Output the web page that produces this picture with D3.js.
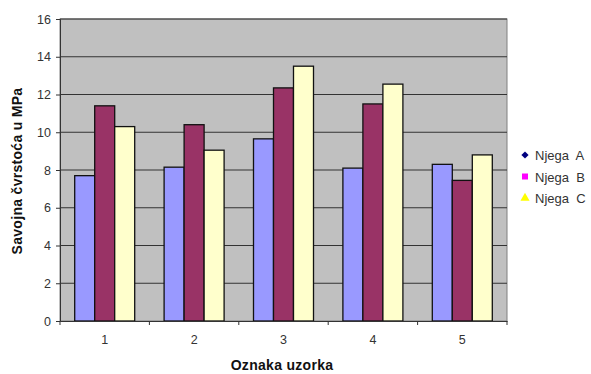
<!DOCTYPE html>
<html><head><meta charset="utf-8">
<script src="https://cdn.jsdelivr.net/npm/d3@7"></script>
<style>body{margin:0;background:#fff;} text{font-family:"Liberation Sans",Arial,sans-serif;}</style>
</head><body>
<svg id="c" width="591" height="374"></svg>
<script>
const categories = ["1","2","3","4","5"];
const seriesNames = ["Njega  A","Njega  B","Njega  C"];
const njegaA = [7.7, 8.15, 9.65, 8.1, 8.3];
const njegaB = [11.4, 10.4, 12.35, 11.5, 7.45];
const njegaC = [10.3, 9.05, 13.5, 12.55, 8.8];
const yTicks = [0,2,4,6,8,10,12,14,16];

const series = [njegaA, njegaB, njegaC];
const barColors = ["#9999FF","#993366","#FFFFCC"];
const legendColors = ["#000080","#FF00FF","#FFFF00"];

const svg = d3.select("#c");
const L = 60, R = 507, T = 19, B = 321;
const x = d3.scaleBand().domain(categories).range([L, R]).paddingInner(0).paddingOuter(0);
const y = d3.scaleLinear().domain([0,16]).range([B, T]);
const barW = 20;

svg.append("rect").attr("x", L).attr("y", T).attr("width", R-L).attr("height", B-T)
  .attr("fill", "#C0C0C0").attr("stroke", "#808080").attr("stroke-width", 1);

svg.append("g").selectAll("line").data(yTicks.filter(d => d > 0)).join("line")
  .attr("x1", L).attr("x2", R).attr("y1", d => y(d)).attr("y2", d => y(d))
  .attr("stroke", "#333").attr("stroke-width", 1);

categories.forEach((c, i) => {
  const cx = x(c) + x.bandwidth()/2;
  series.forEach((s, j) => {
    svg.append("rect")
      .attr("x", cx - 1.5*barW + j*barW)
      .attr("y", y(s[i]))
      .attr("width", barW)
      .attr("height", y(0) - y(s[i]))
      .attr("fill", barColors[j]).attr("stroke", "#111").attr("stroke-width", 1.3);
  });
});

const yAxis = svg.append("g").attr("transform", `translate(${L},0)`)
  .call(d3.axisLeft(y).tickValues(yTicks).tickSize(4).tickPadding(5));
yAxis.select(".domain").attr("stroke", "#333");
yAxis.selectAll("line").attr("stroke", "#333");
yAxis.selectAll("text").attr("font-size", 12.5).attr("fill", "#333").style("font-family", '"Liberation Sans",Arial,sans-serif');

const xAxis = svg.append("g").attr("transform", `translate(0,${B})`)
  .call(d3.axisBottom(x).tickSize(0).tickPadding(14));
xAxis.select(".domain").attr("stroke", "#333");
xAxis.selectAll("text").attr("font-size", 12.5).attr("fill", "#333").style("font-family", '"Liberation Sans",Arial,sans-serif');
svg.append("g").selectAll("line").data(categories.concat(["end"])).join("line")
  .attr("x1", (d,i) => L + i*x.bandwidth()).attr("x2", (d,i) => L + i*x.bandwidth())
  .attr("y1", B).attr("y2", B+4).attr("stroke", "#333");

svg.append("text").attr("x", 282).attr("y", 370).attr("text-anchor", "middle")
  .attr("font-size", 14).attr("font-weight", "bold").attr("letter-spacing", 0.3).attr("fill", "#111").text("Oznaka uzorka");
svg.append("text").attr("transform", "translate(22,171) rotate(-90)").attr("text-anchor", "middle")
  .attr("font-size", 14).attr("font-weight", "bold").attr("letter-spacing", 0.3).attr("fill", "#111").text("Savojna čvrstoća u MPa");

const leg = svg.append("g");
const shapes = [d3.symbolSquare, d3.symbolSquare, d3.symbolTriangle];
seriesNames.forEach((n, i) => {
  const ly = 155 + i*21.5;
  leg.append("path").attr("d", d3.symbol().type(shapes[i]).size(i===0?26:36)())
    .attr("transform", `translate(525,${ly})` + (i===0 ? " rotate(45)" : "")).attr("fill", legendColors[i]);
  leg.append("text").attr("x", 535).attr("y", ly + 5).attr("font-size", 13).attr("fill", "#333")
    .attr("xml:space","preserve").style("white-space","pre").text(n);
});
</script>
</body></html>
